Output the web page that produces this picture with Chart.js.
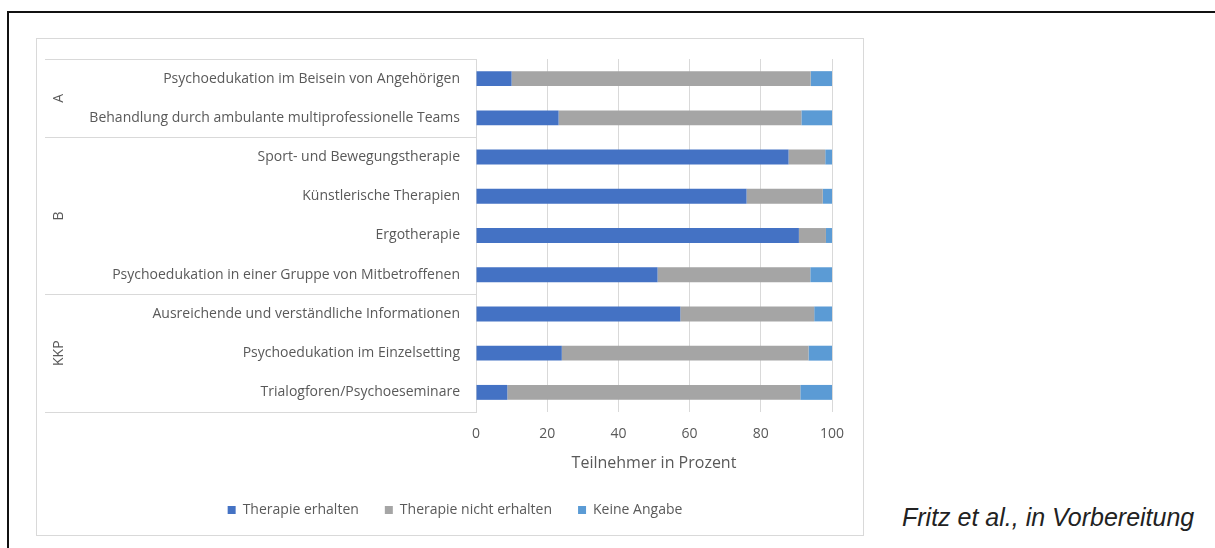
<!DOCTYPE html>
<html>
<head>
<meta charset="utf-8">
<script src="https://cdn.jsdelivr.net/npm/chart.js@4/dist/chart.umd.min.js"></script>
<style>
  html, body { margin: 0; padding: 0; background: #fff; }
  body { width: 1215px; height: 548px; position: relative; overflow: hidden; }
  #frameLeft { position: absolute; left: 7px; top: 11px; width: 2px; height: 540px; background: #111; }
  #frameTop { position: absolute; left: 7px; top: 11px; width: 1210px; height: 2px; background: #111; }
  #chartBox { position: absolute; left: 36px; top: 38px; width: 828px; height: 498px;
              border: 1px solid #d9d9d9; box-sizing: border-box; }
  #chartWrap { position: absolute; left: 0; top: 0; width: 826px; height: 496px; }
  #source { position: absolute; left: 902px; top: 503px; font-family: "Liberation Sans", Arial, sans-serif;
            font-style: italic; font-size: 25px; color: #222; white-space: nowrap; }
</style>
</head>
<body>
<div id="frameLeft"></div>
<div id="frameTop"></div>
<div id="chartBox">
  <div id="chartWrap"><canvas id="chart"></canvas></div>
</div>
<div id="source">Fritz et al., in Vorbereitung</div>

<script>
// categories, top to bottom
const categories = [
  "Psychoedukation im Beisein von Angehörigen",
  "Behandlung durch ambulante multiprofessionelle Teams",
  "Sport- und Bewegungstherapie",
  "Künstlerische Therapien",
  "Ergotherapie",
  "Psychoedukation in einer Gruppe von Mitbetroffenen",
  "Ausreichende und verständliche Informationen",
  "Psychoedukation im Einzelsetting",
  "Trialogforen/Psychoeseminare"
];

// group labels with first and last category index
const groupNames = ["A", "B", "KKP"];
const groupStart = [0, 2, 6];
const groupEnd = [1, 5, 8];

const seriesNames = ["Therapie erhalten", "Therapie nicht erhalten", "Keine Angabe"];
const erhalten      = [10, 23.2, 87.8, 76, 90.7, 51, 57.4, 24.1, 8.8];
const nichtErhalten = [84, 68.2, 10.3, 21.4, 7.6, 42.9, 37.6, 69.3, 82.3];
const keineAngabe   = [6, 8.6, 1.9, 2.6, 1.7, 6.1, 5, 6.6, 8.9];

const xTicks = [0, 20, 40, 60, 80, 100];
const axisTitle = "Teilnehmer in Prozent";

const textColor = "#595959";
const lineColor = "#d9d9d9";
const fontFamily = "'Open Sans', 'Noto Sans', sans-serif";

// group labels and separator lines on the left side
const groupPlugin = {
    id: "groups",
    afterDraw(chart) {
        const ctx = chart.ctx;
        const y = chart.scales.y;
        const half = (y.getPixelForValue(1) - y.getPixelForValue(0)) / 2;
        const left = 8;
        const right = chart.chartArea.left;

        ctx.save();
        ctx.strokeStyle = lineColor;
        ctx.lineWidth = 1;
        groupNames.forEach((name, i) => {
            const top = y.getPixelForValue(groupStart[i]) - half;
            const bottom = y.getPixelForValue(groupEnd[i]) + half;

            ctx.beginPath();
            ctx.moveTo(left, Math.round(top) + 0.5);
            ctx.lineTo(right, Math.round(top) + 0.5);
            ctx.moveTo(left, Math.round(bottom) + 0.5);
            ctx.lineTo(right, Math.round(bottom) + 0.5);
            ctx.stroke();

            ctx.save();
            ctx.translate(22, (top + bottom) / 2);
            ctx.rotate(-Math.PI / 2);
            ctx.fillStyle = textColor;
            ctx.font = "14px " + fontFamily;
            ctx.textAlign = "center";
            ctx.textBaseline = "middle";
            ctx.fillText(name, 0, 0);
            ctx.restore();
        });
        ctx.restore();
    }
};

const ctx = document.getElementById("chart").getContext("2d");

new Chart(ctx, {
    type: "bar",
    data: {
        labels: categories,
        datasets: [
            { label: seriesNames[0], data: erhalten, backgroundColor: "#4472c4" },
            { label: seriesNames[1], data: nichtErhalten, backgroundColor: "#a5a5a5" },
            { label: seriesNames[2], data: keineAngabe, backgroundColor: "#5b9bd5" }
        ]
    },
    options: {
        indexAxis: "y",
        responsive: true,
        maintainAspectRatio: false,
        animation: false,
        datasets: {
            bar: { categoryPercentage: 1, barPercentage: 0.38, borderWidth: 0 }
        },
        layout: {
            padding: { top: 20, right: 0, bottom: 8, left: 10 }
        },
        plugins: {
            legend: {
                position: "bottom",
                maxHeight: 50,
                labels: {
                    boxWidth: 8,
                    boxHeight: 8,
                    padding: 26,
                    color: textColor,
                    font: { family: fontFamily, size: 14 }
                }
            },
            tooltip: { enabled: false }
        },
        scales: {
            x: {
                stacked: true,
                min: 0,
                max: 100,
                afterBuildTicks: (scale) => {
                    scale.ticks = xTicks.map(v => ({ value: v }));
                },
                afterFit: (scale) => {
                    scale.height = 65;
                    scale.paddingRight = 31;
                },
                grid: { color: lineColor, drawTicks: false },
                border: { display: false },
                ticks: {
                    padding: 14,
                    color: textColor,
                    font: { family: fontFamily, size: 14 }
                },
                title: {
                    display: true,
                    text: axisTitle,
                    color: textColor,
                    padding: { top: 0, bottom: 4 },
                    font: { family: fontFamily, size: 16 }
                }
            },
            y: {
                stacked: true,
                afterFit: (scale) => { scale.width = 429; },
                grid: { display: false, drawTicks: true, tickLength: 14 },
                border: { display: true, color: lineColor },
                ticks: {
                    padding: 2,
                    color: textColor,
                    font: { family: fontFamily, size: 14 }
                }
            }
        }
    },
    plugins: [groupPlugin]
});
</script>
</body>
</html>
